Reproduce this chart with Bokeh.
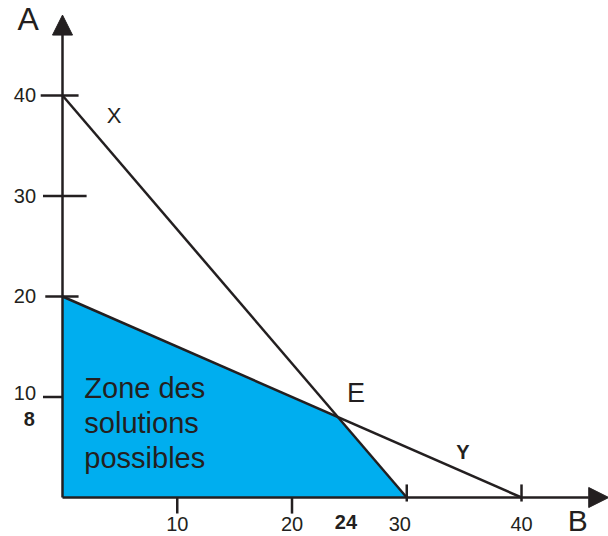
from bokeh.plotting import figure
from bokeh.models import Arrow, NormalHead, Range1d
from bokeh.core.properties import value
from bokeh.embed import file_html
from bokeh.resources import INLINE

# Data
line_x_pts = [0, 30]      # constraint X: from A=40 to B=30
line_x_a = [40, 0]
line_y_pts = [0, 40]      # constraint Y: from A=20 to B=40
line_y_a = [20, 0]
zone_b = [0, 0, 24, 30]
zone_a = [0, 20, 8, 0]
e_point = (24, 8)
b_ticks = [10, 20, 30, 40]
a_ticks = [10, 20, 30, 40]

FONT = value("Liberation Sans")
INK = "#231F20"
CYAN = "#00AEEF"

p = figure(width=608, height=536, output_backend="svg", toolbar_location=None,
           x_range=Range1d(-5.403, 47.58), y_range=Range1d(-3.88, 49.45),
           min_border=0)
p.axis.visible = False
p.grid.visible = False
p.outline_line_color = None
p.background_fill_color = "white"

# Feasible zone
p.patch(zone_b, zone_a, fill_color=CYAN, line_color=None)

# Constraint lines
p.line(line_x_pts, line_x_a, line_color=INK, line_width=2.5)
p.line(line_y_pts, line_y_a, line_color=INK, line_width=2.5)

# Axes with arrows
p.add_layout(Arrow(end=NormalHead(size=20, fill_color=INK, line_color=INK),
                   x_start=0, y_start=0, x_end=0, y_end=48.0,
                   line_color=INK, line_width=2.5))
p.add_layout(Arrow(end=NormalHead(size=20, fill_color=INK, line_color=INK),
                   x_start=0, y_start=0, x_end=47.6, y_end=0,
                   line_color=INK, line_width=2.5))

# Y ticks
ya_x0 = [-1.7, -1.5, -1.7, -1.9]
ya_x1 = [0, 1.4, 2.1, 1.4]
p.segment(x0=ya_x0, x1=ya_x1, y0=a_ticks, y1=a_ticks, line_color=INK, line_width=2.5)
# X ticks
xb_y0 = [0, 0, -0.4, -0.4]
xb_y1 = [-1.6, -1.6, 1.3, 1.3]
p.segment(x0=b_ticks, x1=b_ticks, y0=xb_y0, y1=xb_y1, line_color=INK, line_width=2.5)

# Tick labels
p.text(x=[-2.3] * 4, y=a_ticks, text=[str(v) for v in a_ticks], text_font=FONT,
       text_font_size="20px", text_color=INK, text_align="right", text_baseline="middle",
       y_offset=[-4, 0, 0, 0])
p.text(x=b_ticks, y=[-2.6] * 4, text=[str(v) for v in b_ticks], text_font=FONT,
       text_font_size="20px", text_color=INK, text_align="center", text_baseline="middle",
       x_offset=[0, 0, -7, 0])
# E coordinates in bold
p.text(x=[-2.9], y=[e_point[1]], text=[str(e_point[1])], text_font=FONT,
       text_font_size="20px", text_font_style="bold", text_color=INK,
       text_align="center", text_baseline="middle", y_offset=[2])
p.text(x=[e_point[0]], y=[-2.4], text=[str(e_point[0])], text_font=FONT,
       text_font_size="20px", text_font_style="bold", text_color=INK,
       text_align="center", text_baseline="middle", x_offset=[8])

# Axis names
p.text(x=[-3.0], y=[47.6], text=["A"], text_font=FONT, text_font_size="32px",
       text_color=INK, text_align="center", text_baseline="middle")
p.text(x=[44.9], y=[-2.3], text=["B"], text_font=FONT, text_font_size="30px",
       text_color=INK, text_align="center", text_baseline="middle")

# Line labels
p.text(x=[4.5], y=[38.0], text=["X"], text_font=FONT, text_font_size="22px",
       text_color=INK, text_align="center", text_baseline="middle")
p.text(x=[34.9], y=[4.5], text=["Y"], text_font=FONT, text_font_size="20px",
       text_font_style="bold", text_color=INK, text_align="center", text_baseline="middle")
p.text(x=[e_point[0]], y=[e_point[1]], text=["E"], text_font=FONT, text_font_size="27px",
       text_color=INK, text_align="center", text_baseline="middle",
       x_offset=[18], y_offset=[-24])

# Zone label
p.text(x=[1.9] * 3, y=[10.9, 7.4, 3.9], text=["Zone des", "solutions", "possibles"],
       text_font=FONT, text_font_size="29px", text_color=INK, text_align="left",
       text_baseline="middle")

open("out.html", "w").write(file_html(p, INLINE))
